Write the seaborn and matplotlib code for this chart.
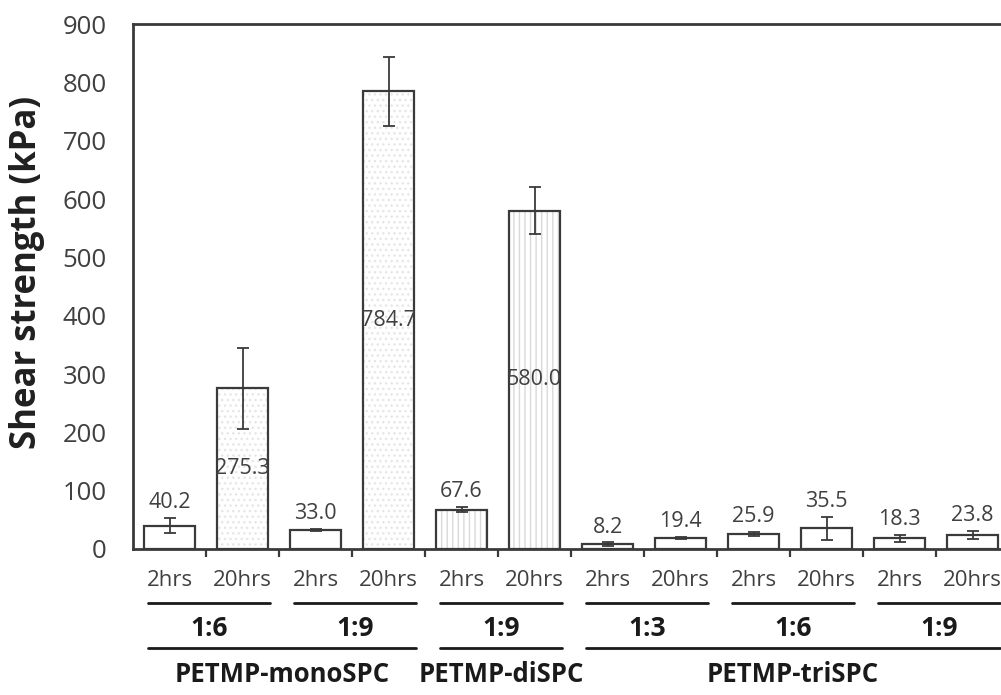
import numpy as np
import pandas as pd
import matplotlib
matplotlib.use("Agg")
import matplotlib.pyplot as plt
import seaborn as sns
from matplotlib.patches import Rectangle
from matplotlib.transforms import blended_transform_factory

# ---- data ----
times = ["2hrs", "20hrs"] * 6
ratios = ["1:6", "1:9", "1:9", "1:3", "1:6", "1:9"]
compounds = ["PETMP-monoSPC", "PETMP-diSPC", "PETMP-triSPC"]
compound_ratio_count = [2, 1, 3]
strength = [40.2, 275.3, 33.0, 784.7, 67.6, 580.0, 8.2, 19.4, 25.9, 35.5, 18.3, 23.8]
strength_err = [13.5, 70.0, 2.0, 59.0, 4.0, 40.0, 3.0, 2.0, 3.0, 20.0, 6.0, 7.0]
yticks = [0, 100, 200, 300, 400, 500, 600, 700, 800, 900]

# fill pattern per bar
hatches = ["", "...", "", "...", "|||", "|||", "", "", "", "", "", ""]
hatch_colors = ["", "#e6e6e6", "", "#e6e6e6", "#d9d9d9", "#d9d9d9", "", "", "", "", "", ""]

sns.set_theme(style="white")
plt.rcParams["font.family"] = ["Open Sans", "DejaVu Sans"]

df = pd.DataFrame({
    "sample": [f"s{i}" for i in range(len(strength))],
    "strength": strength,
})

fig = plt.figure(figsize=(10.01, 6.95), dpi=100)
W, H = 1001, 695
ax = fig.add_axes([133 / W, 146 / H, 876 / W, 525 / H])

edge = "#3a3a3a"
text_col = "#404040"
sns.barplot(data=df, x="sample", y="strength", order=list(df["sample"]),
            color="white", edgecolor=edge, linewidth=1.6, width=0.69,
            errorbar=None, ax=ax, saturation=1)

# faint fill patterns drawn over the bar faces
for patch, h, hc in zip(list(ax.patches), hatches, hatch_colors):
    if h:
        ax.add_patch(Rectangle(patch.get_xy(), patch.get_width(), patch.get_height(),
                               fill=False, edgecolor=hc, linewidth=0,
                               hatch=h, zorder=patch.get_zorder() - 0.05))
        patch.set_facecolor("none")

xs = np.arange(len(strength))
ax.errorbar(xs, strength, yerr=strength_err, fmt="none", ecolor=edge,
            elinewidth=1.3, capsize=4, capthick=1.3, zorder=5)

# value labels
for x, v, e in zip(xs, strength, strength_err):
    if v > 200:
        ax.annotate(f"{v:.1f}", (x, v / 2), ha="center", va="center",
                    fontsize=15.5, color=text_col, zorder=6)
    else:
        ax.annotate(f"{v:.1f}", (x, v + e), xytext=(0, 11), textcoords="offset points",
                    ha="center", va="center", fontsize=15.5, color=text_col, zorder=6)

ax.set_xlim(-0.5, len(strength) - 0.5)
ax.set_ylim(0, 900)
ax.set_yticks(yticks)
ax.set_yticklabels([str(t) for t in yticks], fontsize=18.5, color=text_col)
ax.tick_params(axis="y", direction="in", length=8, width=1.6, color=edge, pad=19)

ax.set_xticks(xs)
ax.set_xticklabels(times, fontsize=16, color=text_col)
ax.set_xticks(np.arange(0.5, len(strength) - 0.5, 1), minor=True)
ax.tick_params(axis="x", which="major", length=0, pad=15)
ax.tick_params(axis="x", which="minor", direction="out", length=6, width=1.6,
               color=edge, bottom=True)
ax.set_xlabel("")
ax.set_ylabel("Shear strength (kPa)", fontsize=25, fontweight="bold",
              color="#202020")
ax.yaxis.set_label_coords(-0.1, 0.526)

for side in ["left", "bottom", "top", "right"]:
    ax.spines[side].set_visible(True)
    ax.spines[side].set_color(edge)
    ax.spines[side].set_linewidth(2)

# grouping rows beneath the axis
tr = blended_transform_factory(ax.transData, fig.transFigure)
line_kw = dict(color="#1a1a1a", linewidth=2, transform=tr, clip_on=False)

y_ratio_line = 1 - 603 / H
y_ratio_text = 1 - 628 / H
y_comp_line = 1 - 648 / H
y_comp_text = 1 - 675 / H

for k, r in enumerate(ratios):
    x0, x1 = 2 * k - 0.3, 2 * k + 1 + 0.38
    ax.plot([x0, x1], [y_ratio_line] * 2, **line_kw)
    ax.text((x0 + x1) / 2, y_ratio_text, r, transform=tr, ha="center", va="center",
            fontsize=19, fontweight="bold", color="#1a1a1a")

start = 0
for name, n in zip(compounds, compound_ratio_count):
    first, last = start, start + 2 * n - 1
    x0, x1 = first - 0.3, last + 0.38
    ax.plot([x0, x1], [y_comp_line] * 2, **line_kw)
    ax.text((x0 + x1) / 2, y_comp_text, name, transform=tr, ha="center", va="center",
            fontsize=18.5, fontweight="bold", color="#1a1a1a")
    start = last + 1

fig.savefig("out.png", dpi=100)
